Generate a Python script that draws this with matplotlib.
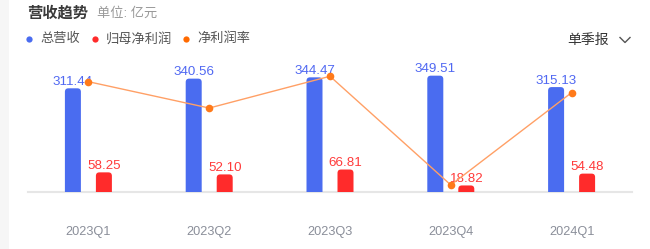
import matplotlib
matplotlib.use("Agg")
import matplotlib.pyplot as plt
from matplotlib.patches import FancyBboxPatch, Rectangle
from matplotlib.lines import Line2D
import numpy as np

plt.rcParams['font.family'] = ['Liberation Sans', 'Noto Sans CJK SC', 'DejaVu Sans']

# data (亿元, %)
quarters = ["2023Q1", "2023Q2", "2023Q3", "2023Q4", "2024Q1"]
revenue = [311.44, 340.56, 344.47, 349.51, 315.13]
net_profit = [58.25, 52.10, 66.81, 18.82, 54.48]
net_margin = [18.70, 15.30, 19.40, 5.38, 17.29]

BLUE = "#4a6cf0"
BLUE_TXT = "#5068f2"
RED = "#ff2b2b"
RED_TXT = "#ff3a3a"
ORANGE = "#ff7a1a"
ORANGE_LINE = "#ffa066"

W, H = 650, 249


def px(x, y):
    # pixel (from top-left) -> figure fraction
    return x / W, 1 - y / H


fig = plt.figure(figsize=(W / 100, H / 100), dpi=100)
fig.patch.set_facecolor("white")

# faint strip on the left edge
fig.add_artist(Rectangle((0, 0), 9 / W, 1, transform=fig.transFigure,
                         facecolor="#f6f6f6", edgecolor="none"))

left, right = 28, 632
base_y, top_y = 191.7, 42.3
ax = fig.add_axes([left / W, 1 - base_y / H, (right - left) / W, (base_y - top_y) / H])
ax.set_xlim(-0.5, 4.5)
ax.set_ylim(0, 450)
for s in ax.spines.values():
    s.set_visible(False)
ax.set_yticks([])
ax.set_xticks([])
ax.patch.set_alpha(0)

x = np.arange(len(quarters))
unit = (right - left) / 5.0
off = 15.5 / unit
bw = 16 / unit
y_per_px = 450 / (base_y - top_y)
aspect = y_per_px / (1 / unit)
rad = 3.5 / unit


def rounded(container, color):
    for rect in container:
        x0, y0 = rect.get_x(), rect.get_y()
        w, h = rect.get_width(), rect.get_height()
        extra = 4 * y_per_px
        p = FancyBboxPatch((x0, y0 - extra), w, h + extra,
                           boxstyle=f"round,pad=0,rounding_size={rad}",
                           mutation_aspect=aspect, facecolor=color,
                           edgecolor="none", zorder=2)
        ax.add_patch(p)
        rect.remove()


b1 = ax.bar(x - off, revenue, width=bw, color=BLUE)
b2 = ax.bar(x + off, net_profit, width=bw, color=RED)
rounded(b1, BLUE)
rounded(b2, RED)

for xi, v in zip(x, revenue):
    ax.annotate(f"{v:.2f}", (xi - off, v), xytext=(0, 0.3), textcoords="offset points",
                ha="center", va="bottom", fontsize=9.6, color=BLUE_TXT, zorder=5)
for xi, v in zip(x, net_profit):
    ax.annotate(f"{v:.2f}", (xi + off, v), xytext=(0, 0.3), textcoords="offset points",
                ha="center", va="bottom", fontsize=9.6, color=RED_TXT, zorder=5)

# baseline
ax.axhline(0, color="#e6e6e6", lw=1.5, zorder=1, clip_on=False)

# category labels
for xi, q in zip(x, quarters):
    ax.text(xi, -40.3 * y_per_px, q, ha="center", va="center", fontsize=9.2, color="#8a8e99")

ax2 = ax.twinx()
ax2.set_ylim(4.51, 23.78)
ax2.set_yticks([])
for s in ax2.spines.values():
    s.set_visible(False)
ax2.plot(x, net_margin, color=ORANGE_LINE, lw=1, zorder=3)
ax2.plot(x, net_margin, "o", color=ORANGE, ms=5.5, mec="none", zorder=4)

# header
fig.text(*px(27, 13), "营收趋势", fontsize=11, fontweight="bold", color="#3a3a3a",
         va="center", ha="left")
fig.text(*px(97, 13), "单位: 亿元", fontsize=9.5, color="#999999", va="center", ha="left")

legend = [("总营收", "#4a6cf0", 29), ("归母净利润", "#ff2b2b", 95), ("净利润率", "#ff6a00", 186)]
for name, c, lx in legend:
    fig.add_artist(Line2D([lx / W], [1 - 39 / H], marker="o", ms=4.5, color=c, mec="none",
                          transform=fig.transFigure))
    fig.text(*px(lx + 11, 39), name, fontsize=9.5, color="#555555", va="center", ha="left")

fig.text(*px(567, 40), "单季报", fontsize=10, color="#333333", va="center", ha="left")
cx = [620 / W, 625 / W, 630 / W]
cy = [1 - 37.5 / H, 1 - 42.5 / H, 1 - 37.5 / H]
fig.add_artist(Line2D(cx, cy, color="#555555", lw=1, transform=fig.transFigure))

fig.savefig("out.png", dpi=100, facecolor="white")
